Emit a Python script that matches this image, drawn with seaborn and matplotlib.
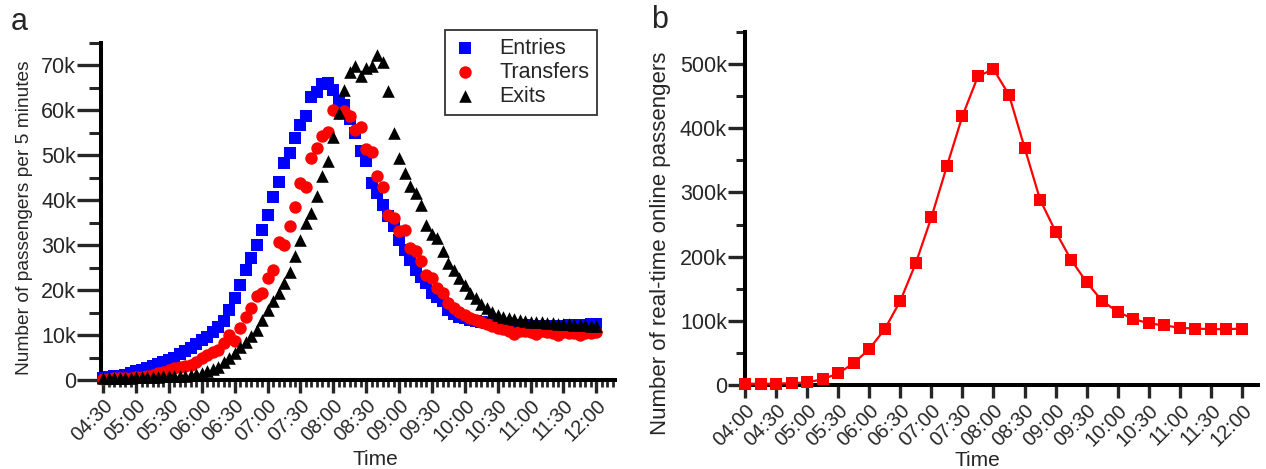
import matplotlib
matplotlib.use("Agg")
import matplotlib.pyplot as plt
import seaborn as sns
import numpy as np
import pandas as pd
from matplotlib.ticker import MultipleLocator, FuncFormatter

# panel a: passengers per 5 minutes, 04:30 .. 12:00 (thousands)
entries_k = [0.5, 0.6, 0.8, 1.0, 1.2, 1.5, 1.9, 2.3, 2.7, 3.1,
             3.6, 4.0, 4.4, 5.0, 5.8, 6.4, 7.2, 8.0, 8.9, 9.6,
             10.6, 11.8, 13.2, 15.5, 18.3, 21.2, 24.5, 27.2, 30.1, 33.4,
             36.8, 40.8, 44.1, 48.4, 50.6, 53.9, 56.8, 58.8, 62.9, 64.2,
             65.8, 66.2, 64.6, 62.0, 61.3, 58.0, 55.0, 50.9, 48.7, 43.9,
             41.7, 39.0, 36.5, 34.2, 31.2, 29.0, 26.7, 24.5, 23.0, 21.6,
             19.4, 18.5, 17.5, 15.6, 14.6, 14.0, 13.8, 13.4, 13.1, 12.9,
             12.7, 12.6, 12.5, 12.4, 12.3, 12.3, 12.2, 12.2, 12.1, 12.1,
             12.0, 12.0, 12.0, 12.1, 12.1, 12.2, 12.2, 12.3, 12.3, 12.4, 12.5]
transfers_k = [0.3, 0.3, 0.4, 0.4, 0.5, 0.5, 0.6, 0.7, 0.9, 1.2,
               1.5, 1.8, 2.2, 2.6, 3.0, 3.2, 3.3, 4.0, 4.9, 5.6,
               6.2, 6.7, 8.2, 10.0, 8.6, 11.6, 14.0, 16.0, 18.6, 19.3,
               22.7, 24.5, 30.8, 30.1, 34.2, 38.6, 43.8, 43.0, 49.4, 51.6,
               54.2, 55.3, 60.2, 59.4, 59.8, 58.7, 55.7, 56.3, 51.3, 50.7,
               45.3, 43.0, 36.8, 36.0, 33.1, 33.4, 29.3, 28.6, 26.4, 23.4,
               22.7, 20.4, 19.3, 17.1, 16.0, 15.2, 14.5, 13.8, 13.4, 13.0,
               12.4, 12.0, 11.6, 11.3, 11.0, 10.2, 11.0, 10.8, 10.7, 10.2,
               10.8, 10.6, 10.5, 10.1, 10.6, 10.5, 10.4, 10.0, 10.5, 10.5, 10.6]
exits_k = [0.5, 0.5, 0.5, 0.5, 0.5, 0.5, 0.6, 0.6, 0.6, 0.7,
           0.7, 0.8, 0.8, 0.9, 1.0, 1.0, 1.1, 1.3, 1.5, 2.0,
           2.5, 3.0, 4.0, 5.0, 6.0, 7.3, 8.5, 9.8, 11.1, 13.4,
           15.6, 17.5, 19.3, 21.6, 24.1, 27.5, 31.2, 35.0, 37.2, 41.0,
           45.5, 48.8, 54.0, 59.4, 64.5, 68.5, 69.8, 67.6, 69.5, 69.8,
           72.4, 70.8, 64.3, 55.0, 49.4, 46.0, 43.1, 41.6, 39.0, 34.6,
           32.5, 31.6, 28.6, 26.0, 24.5, 22.8, 21.2, 19.3, 18.2, 17.0,
           16.0, 15.2, 14.5, 14.1, 13.7, 13.5, 13.4, 13.2, 13.0, 12.9,
           12.8, 12.7, 12.6, 12.5, 12.5, 12.4, 12.3, 12.3, 12.2, 12.1, 12.0]

# panel b: real-time online passengers every 15 minutes, 04:00 .. 12:00 (thousands)
online_k = [2, 2, 2, 3, 4, 9, 18, 34, 56, 87, 131, 190, 261, 341, 419, 481, 492,
            452, 370, 289, 239, 195, 160, 131, 114, 103, 96, 93, 89, 88, 87, 87, 88]

minutes_a = 270 + 5 * np.arange(len(entries_k))
minutes_b = 240 + 15 * np.arange(len(online_k))

sns.set_style("ticks")
plt.rcParams['font.family'] = ['Liberation Sans', 'DejaVu Sans']

W, H = 1266, 469
fig = plt.figure(figsize=(W / 100, H / 100), dpi=100)
ax1 = fig.add_axes([101 / W, 1 - 380 / H, 514 / W, 337 / H])
ax2 = fig.add_axes([745 / W, 1 - 385 / H, 513 / W, 353 / H])


def hhmm(v, pos=None):
    return "%02d:%02d" % (int(v) // 60, int(v) % 60)


def kfmt(v, pos=None):
    return "0" if v == 0 else "%dk" % round(v / 1000)


def style_axis(ax, ymajor, yminor):
    for s in ["top", "right"]:
        ax.spines[s].set_visible(False)
    for s in ["left", "bottom"]:
        ax.spines[s].set_linewidth(2.9)
        ax.spines[s].set_color("black")
    ax.tick_params(axis="x", which="major", length=9.5, width=2.4, labelsize=14.5, pad=2)
    ax.tick_params(axis="x", which="minor", length=5, width=2.0)
    ax.tick_params(axis="y", which="major", length=ymajor, width=2.4, labelsize=15.5, pad=1)
    ax.tick_params(axis="y", which="minor", length=yminor, width=2.2)
    ax.xaxis.set_major_formatter(FuncFormatter(hhmm))
    ax.yaxis.set_major_formatter(FuncFormatter(kfmt))
    for lab in ax.get_xticklabels():
        lab.set_rotation(45)
        lab.set_ha("right")
        lab.set_rotation_mode("anchor")
    ax.set_xlabel("")
    ax.set_ylabel("")


df_a = pd.DataFrame({
    "minute": np.concatenate([minutes_a] * 3),
    "value": np.concatenate([entries_k, transfers_k, exits_k]) * 1000,
    "kind": ["Entries"] * len(entries_k) + ["Transfers"] * len(transfers_k) + ["Exits"] * len(exits_k),
})
marks = {"Entries": ("s", "#0000ff", 66), "Transfers": ("o", "#ff0000", 80), "Exits": ("^", "black", 82)}
for kind in ["Entries", "Transfers", "Exits"]:
    mk, col, sz = marks[kind]
    sub = df_a[df_a["kind"] == kind]
    sns.scatterplot(data=sub, x="minute", y="value", ax=ax1, marker=mk, color=col,
                    s=sz, linewidth=0, label=kind, clip_on=False, zorder=3)

ax1.set_xlim(268, 737)
ax1.set_ylim(0, 75000)
ax1.set_xticks(np.arange(270, 721, 30))
ax1.xaxis.set_minor_locator(MultipleLocator(5))
ax1.yaxis.set_major_locator(MultipleLocator(10000))
ax1.yaxis.set_minor_locator(MultipleLocator(5000))
style_axis(ax1, 17, 9)
leg = ax1.legend(loc="upper right", bbox_to_anchor=(597 / W, 1 - 30 / H),
                 bbox_transform=fig.transFigure, frameon=True, fancybox=False,
                 fontsize=15.5, handletextpad=1.0, borderpad=0.35, labelspacing=0.15,
                 handlelength=1.2, borderaxespad=0)
leg.get_frame().set_edgecolor("black")
leg.get_frame().set_linewidth(1.3)

df_b = pd.DataFrame({"minute": minutes_b, "value": np.array(online_k) * 1000})
sns.lineplot(data=df_b, x="minute", y="value", ax=ax2, color="#ff0000", linewidth=1.6,
             marker="s", markersize=8.3, markeredgewidth=0, clip_on=False, zorder=3)
ax2.set_xlim(240, 735.5)
ax2.set_ylim(0, 550000)
ax2.set_xticks(np.arange(240, 721, 30))
ax2.set_yticks(np.arange(0, 500001, 100000))
ax2.yaxis.set_minor_locator(MultipleLocator(50000))
style_axis(ax2, 12, 6.5)

# axis titles placed as in the reference
fig.text(25 / W, 1 - 218 / H, "Number of passengers per 5 minutes", rotation=90,
         ha="center", va="center", fontsize=13.8)
fig.text(660 / W, 1 - 243 / H, "Number of real-time online passengers", rotation=90,
         ha="center", va="center", fontsize=16)
fig.text(375 / W, 1 - 459 / H, "Time", ha="center", va="center", fontsize=15)
fig.text(977 / W, 1 - 460 / H, "Time", ha="center", va="center", fontsize=15)

fig.text(11 / W, 1 - 22 / H, "a", fontsize=22, va="center", ha="left")
fig.text(651 / W, 1 - 20 / H, "b", fontsize=22, va="center", ha="left")

fig.savefig("out.png", dpi=100)
